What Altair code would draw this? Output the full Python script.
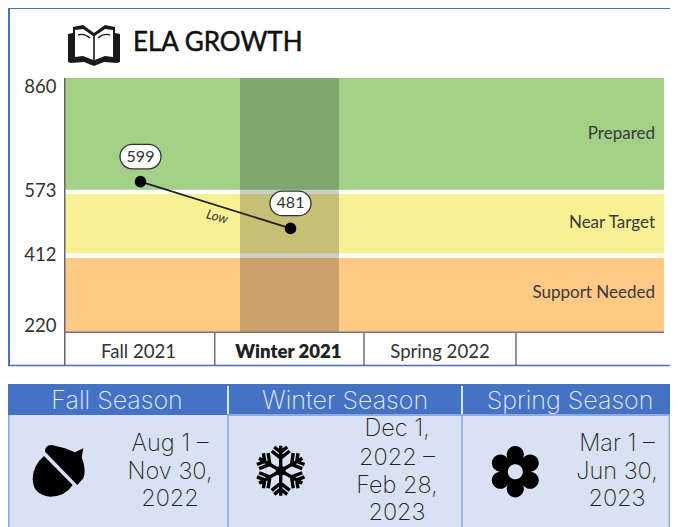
import math
import altair as alt

# ---- data ----
SEASONS = ["Fall 2021", "Winter 2021", "Spring 2022"]
SLOT_EDGES = [1.005, 2, 3.013]
SCORE_X = [0.51, 1.51]
SCORES = [599, 481]
LOW_LABEL = "Low"
Y_TICKS = [860, 573, 412, 220]
BANDS = ["Prepared", "Near Target", "Support Needed"]
BAND_FROM = [573, 412, 220]
BAND_TO = [860, 573, 412]
BAND_COLORS = ["#A2D087", "#F7F193", "#FFC986"]
BAND_LABEL_AT = [719, 495, 318]
HIGHLIGHT = [1.173, 1.833]
TABLE_HEADS = ["Fall Season", "Winter Season", "Spring Season"]
TABLE_DATES = [
    ["Aug 1 \u2013", "Nov 30,", "2022"],
    ["Dec 1,", "2022 \u2013", "Feb 28,", "2023"],
    ["Mar 1 \u2013", "Jun 30,", "2023"],
]

W, H = 662, 519
OX, OY = 8, 8  # page margin


def px(v):
    return alt.value(v - OX)


def py(v):
    return alt.value(v - OY)


ONE = alt.Data(values=[{"a": 1}])
CHART_FONT = "Lato"
TABLE_FONT = "Inter"
BLUE = "#4472C4"
EDGE = "#8EAADB"
CELL = "#D9E2F3"

x_scale = alt.Scale(domain=[0, 4], range=[64 - OX, 664 - OX], nice=False, zero=False)
y_scale = alt.Scale(domain=[220, 860], range=[332 - OY, 78 - OY], nice=False, zero=False)


def X(f="x"):
    return alt.X(f + ":Q", scale=x_scale, axis=None)


def Y(f="y"):
    return alt.Y(f + ":Q", scale=y_scale, axis=None)


def box(x0, x1, y0, y1, color):
    return alt.Chart(ONE).mark_rect(color=color).encode(x=px(x0), x2=px(x1), y=py(y0), y2=py(y1))


def text(s, x, y, size, color="#333333", font=CHART_FONT, weight=400, align="center", **kw):
    return alt.Chart(ONE).mark_text(
        text=s, fontSize=size, color=color, font=font, fontWeight=weight,
        align=align, baseline="middle", **kw
    ).encode(x=px(x), y=py(y))


def icon(path, x, y, w, fill="black", **kw):
    return alt.Chart(ONE).mark_point(shape=path, filled=True, fill=fill, opacity=1, strokeWidth=0, **kw).encode(
        x=px(x), y=py(y), size=alt.value(w * w)
    )


layers = []

# outer frame
layers += [
    box(8, 670, 7.5, 9, BLUE),
    box(8, 10, 8, 366, BLUE),
    box(8, 670, 364.8, 366.3, BLUE),
]

# bands
band_rows = [
    {"label": b, "lo": l, "hi": h, "at": a, "c": c}
    for b, l, h, a, c in zip(BANDS, BAND_FROM, BAND_TO, BAND_LABEL_AT, BAND_COLORS)
]
layers.append(
    alt.Chart(alt.Data(values=band_rows)).mark_rect().encode(
        x=alt.datum(0, scale=x_scale, axis=None),
        x2=alt.datum(4),
        y=Y("lo"),
        y2=alt.Y2("hi"),
        color=alt.Color("c:N", scale=None, legend=None),
    )
)
# white separators
layers.append(
    alt.Chart(alt.Data(values=[{"y": v} for v in BAND_TO[1:]])).mark_rule(color="white", strokeWidth=4.4).encode(
        x=alt.datum(0, scale=x_scale, axis=None), x2=alt.datum(4), y=Y()
    )
)
# highlighted season
layers.append(
    alt.Chart(alt.Data(values=[{"x0": HIGHLIGHT[0], "x1": HIGHLIGHT[1], "lo": 220, "hi": 860}]))
    .mark_rect(color="black", opacity=0.2)
    .encode(x=X("x0"), x2=alt.X2("x1"), y=Y("lo"), y2=alt.Y2("hi"))
)
# band labels
layers.append(
    alt.Chart(alt.Data(values=band_rows))
    .mark_text(align="right", baseline="middle", fontSize=17, font=CHART_FONT, color="#3a3a3a")
    .encode(x=px(655), y=Y("at"), text="label:N")
)

# axis lines
layers += [
    box(64, 65.5, 78, 365, "#666666"),
    box(64, 664, 331.5, 333, "#777777"),
]
layers.append(
    alt.Chart(alt.Data(values=[{"x": v} for v in SLOT_EDGES]))
    .mark_rule(color="#666666", strokeWidth=1.4)
    .encode(x=X(), y=py(333), y2=py(365))
)

# y labels
for v, dy in zip(Y_TICKS, [9, -1, -1, -6]):
    layers.append(
        alt.Chart(alt.Data(values=[{"y": v}]))
        .mark_text(align="right", baseline="middle", fontSize=18.5, font=CHART_FONT, color="#333333", dy=dy)
        .encode(x=px(56.5), y=Y(), text="y:Q")
    )

# x labels
for name, cx, w in zip(SEASONS, [138.5, 288.5, 440], [400, 800, 400]):
    layers.append(text(name, cx, 352, 18.6, weight=w, color="#222222" if w > 400 else "#333333"))

# score line and points
rows = [{"x": a, "y": b} for a, b in zip(SCORE_X, SCORES)]
pts = alt.Data(values=rows)
layers.append(alt.Chart(pts).mark_line(color="#222222", strokeWidth=1.8).encode(x=X(), y=Y()))
layers.append(
    alt.Chart(pts).mark_point(filled=True, color="black", opacity=1, size=135).encode(x=X(), y=Y())
)
PILL = "M-0.4,-0.6 L0.4,-0.6 A0.6,0.6 0 0 1 0.4,0.6 L-0.4,0.6 A0.6,0.6 0 0 1 -0.4,-0.6 Z"
layers.append(
    alt.Chart(pts)
    .mark_point(shape=PILL, filled=True, fill="white", stroke="#333333", strokeWidth=1.3, opacity=1, yOffset=-25)
    .encode(x=X(), y=Y(), size=alt.value(41 * 41))
)
layers.append(
    alt.Chart(pts)
    .mark_text(fontSize=16, font=CHART_FONT, color="#333333", baseline="middle", dy=-25)
    .encode(x=X(), y=Y(), text="y:Q")
)
layers.append(text(LOW_LABEL, 217, 217, 13, font=CHART_FONT, fontStyle="italic", angle=15, color="#333333"))

# title and book
layers.append(text("ELA GROWTH", 133, 43, 26, color="#111111", weight=400, align="left", stroke="#111111", strokeWidth=0.5))
B = lambda x, y: f"{(x-94)/26:.3f},{(y-45)/26:.3f}"
BOOK_OUT = ("M" + " L".join(B(*p) for p in [
    (73, 27), (83, 25), (94, 33), (105, 25), (115, 27), (115, 33), (120, 34), (120, 62), (117, 63),
    (104, 62), (94, 66), (84, 62), (71, 63), (68, 62), (68, 34), (73, 33)]) + " Z")
BOOK_PAGES = ("M" + " L".join(B(*p) for p in [
    (75, 30), (83, 29), (93.2, 36), (93.2, 60), (83, 56), (75, 57)]) + " Z M" + " L".join(B(*p) for p in [
    (113, 30), (105, 29), (94.8, 36), (94.8, 60), (105, 56), (113, 57)]) + " Z")
BOOK_LINES = ("M" + B(78, 35) + " Q" + B(84, 33) + " " + B(90, 38) + " M" + B(110, 35) + " Q" + B(104, 33) + " " + B(98, 38))
layers.append(icon(BOOK_OUT, 94, 45, 52, fill="#1a1a1a"))
layers.append(icon(BOOK_PAGES, 94, 45, 52, fill="white"))
layers.append(
    alt.Chart(ONE).mark_point(shape=BOOK_LINES, filled=False, stroke="#1a1a1a", strokeWidth=1.4, opacity=1)
    .encode(x=px(94), y=py(45), size=alt.value(52 * 52))
)

# table
layers += [
    box(8, 670, 384, 415, BLUE),
    box(8, 670, 415, 527, CELL),
    box(228, 670, 414, 416, EDGE),
    box(8, 9.5, 415, 527, EDGE),
    box(227.2, 228.8, 386, 414, "white"),
    box(461.2, 462.8, 386, 414, "white"),
    box(227.2, 228.8, 415, 527, EDGE),
    box(461.2, 462.8, 415, 527, EDGE),
    box(668.5, 670, 415, 527, EDGE),
]
for h, cx in zip(TABLE_HEADS, [117, 345, 570]):
    layers.append(text(h, cx, 401, 25, color="#E6ECF8", font=TABLE_FONT, weight=200))
for lines, cx, ys in zip(
    TABLE_DATES, [170, 397, 617], [[444, 472, 499], [429, 458, 486, 513], [444, 472, 499]]
):
    for ln, yy in zip(lines, ys):
        layers.append(text(ln, cx, yy, 23.5, color="#222222", font=TABLE_FONT, weight=200))

# acorn
A = lambda x, y: f"{(x-177)/78:.3f},{(y-302)/78:.3f}"
ACORN = (
    "M" + A(135, 245) + " Q" + A(135, 225) + " " + A(155, 225) + " L" + A(195, 235) + " L" + A(225, 247)
    + " L" + A(250, 235) + " L" + A(245, 262) + " Q" + A(260, 300) + " " + A(250, 325) + " L" + A(232, 345)
    + " Z M" + A(132, 258) + " L" + A(218, 345) + " Q" + A(195, 380) + " " + A(150, 380)
    + " Q" + A(98, 375) + " " + A(98, 325) + " Q" + A(100, 285) + " " + A(132, 258) + " Z"
)
layers.append(icon(ACORN, 59, 470.7, 52))

# snowflake
parts = []
for k in range(6):
    t = math.radians(60 * k - 90)
    ux, uy = math.cos(t), math.sin(t)
    vx, vy = -uy, ux
    parts.append(f"M0,0 L{ux:.3f},{uy:.3f}")
    for r, b in [(0.5, 0.36), (0.74, 0.26)]:
        for s in (-1, 1):
            parts.append(
                f"M{ux*r:.3f},{uy*r:.3f} L{ux*(r+b*0.8)+s*vx*b:.3f},{uy*(r+b*0.8)+s*vy*b:.3f}"
            )
FLAKE = " ".join(parts)
layers.append(
    alt.Chart(ONE).mark_point(shape=FLAKE, filled=False, stroke="black", strokeWidth=3.4, opacity=1)
    .encode(x=px(280.7), y=py(470.7), size=alt.value(50 * 50))
)
layers.append(icon("M-1,0 A1,1 0 1 1 1,0 A1,1 0 1 1 -1,0 Z", 280.7, 470.7, 10))

# flower
petals = []
for k in range(6):
    t = math.radians(60 * k - 90)
    cx, cy = 0.66 * math.cos(t), 0.66 * math.sin(t)
    r = 0.33
    petals.append(
        f"M{cx-r:.3f},{cy:.3f} A{r},{r} 0 1 1 {cx+r:.3f},{cy:.3f} A{r},{r} 0 1 1 {cx-r:.3f},{cy:.3f} Z"
    )
petals.append("M-0.6,0 A0.6,0.6 0 1 1 0.6,0 A0.6,0.6 0 1 1 -0.6,0 Z")
layers.append(icon(" ".join(petals), 515.3, 471.7, 52))
layers.append(icon("M-1,0 A1,1 0 1 1 1,0 A1,1 0 1 1 -1,0 Z", 515.3, 471.7, 15, fill=CELL))

chart = (
    alt.layer(*layers)
    .resolve_scale(color="independent")
    .properties(width=W, height=H, padding=0, autosize=alt.AutoSizeParams(type="none"), background="white")
    .configure_view(stroke=None)
)
chart.save("out.html", embed_options={"renderer": "svg", "actions": False})
